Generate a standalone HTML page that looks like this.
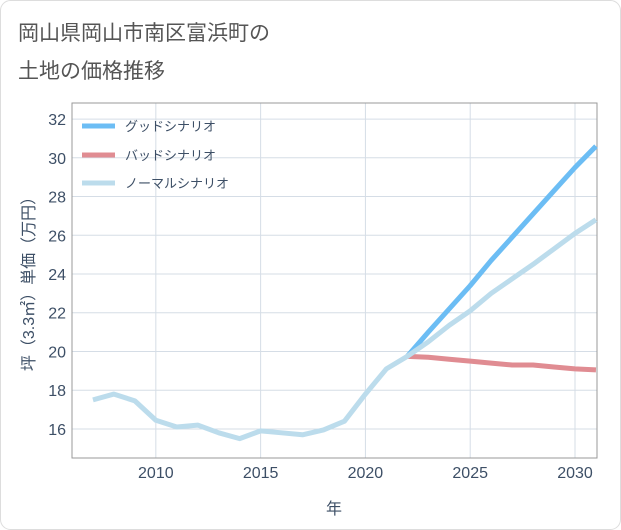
<!DOCTYPE html>
<html><head><meta charset="utf-8"><style>
body{margin:0;background:#fff;}
svg{display:block;font-family:"Liberation Sans","Noto Sans CJK JP",sans-serif;}
</style></head><body>
<svg width="621" height="530" viewBox="0 0 621 530">
<rect x="0.5" y="0.5" width="620" height="529" rx="10" fill="#fff" stroke="#ddd"/>
<text x="18" y="40" font-size="21" fill="#555">岡山県岡山市南区富浜町の</text>
<text x="18" y="78" font-size="21" fill="#555">土地の価格推移</text>
<g id="grid"></g>
<rect x="72" y="103" width="525" height="355" fill="none" stroke="#999"/>
<g id="series"></g>
<g id="axes"></g>
<text transform="translate(34,280) rotate(-90)" text-anchor="middle" font-size="16" fill="#3d4f66">坪（3.3㎡）単価（万円）</text>
<text x="334" y="514" text-anchor="middle" font-size="16" fill="#3d4f66">年</text>
<g>
<line x1="82" y1="126" x2="115" y2="126" stroke="#6cbdf4" stroke-width="5"/>
<text x="125" y="131" font-size="13" fill="#3d4f66">グッドシナリオ</text>
<line x1="82" y1="155" x2="115" y2="155" stroke="#e08c92" stroke-width="5"/>
<text x="125" y="160" font-size="13" fill="#3d4f66">バッドシナリオ</text>
<line x1="82" y1="183" x2="115" y2="183" stroke="#bcdcec" stroke-width="5"/>
<text x="125" y="188" font-size="13" fill="#3d4f66">ノーマルシナリオ</text>
</g>
</svg>
<script>
const normalYears=[2007,2008,2009,2010,2011,2012,2013,2014,2015,2016,2017,2018,2019,2020,2021,2022,2023,2024,2025,2026,2027,2028,2029,2030,2031];
const normalValues=[17.5,17.8,17.45,16.45,16.1,16.2,15.8,15.5,15.9,15.8,15.7,15.95,16.4,17.8,19.1,19.75,20.5,21.35,22.1,23.0,23.75,24.5,25.3,26.1,26.8];
const scenarioYears=[2022,2023,2024,2025,2026,2027,2028,2029,2030,2031];
const goodValues=[19.75,21.0,22.2,23.4,24.7,25.9,27.1,28.3,29.5,30.6];
const badValues=[19.75,19.7,19.6,19.5,19.4,19.3,19.3,19.2,19.1,19.05];
const xTicks=[2010,2015,2020,2025,2030];
const yTicks=[16,18,20,22,24,26,28,30,32];
const NS="http://www.w3.org/2000/svg";
const X0=72,X1=597,Y0=458,Y1=103,xMin=2006,xMax=2031.05,yMin=14.5,yMax=32.83;
function xs(v){return X0+(v-xMin)/(xMax-xMin)*(X1-X0);}
function ys(v){return Y0-(v-yMin)/(yMax-yMin)*(Y0-Y1);}
const grid=document.getElementById('grid'),axes=document.getElementById('axes'),series=document.getElementById('series');
xTicks.forEach(t=>{
 const l=document.createElementNS(NS,'line');
 l.setAttribute('x1',xs(t));l.setAttribute('x2',xs(t));l.setAttribute('y1',Y1);l.setAttribute('y2',Y0);
 l.setAttribute('stroke','#d5dde6');
 
 
 grid.appendChild(l);
 const tx=document.createElementNS(NS,'text');
 tx.setAttribute('x',xs(t));tx.setAttribute('y',478);tx.setAttribute('text-anchor','middle');
 tx.setAttribute('font-size','16');tx.setAttribute('fill','#3d4f66');tx.textContent=t;
 
 
 axes.appendChild(tx);
});
yTicks.forEach(t=>{
 const l=document.createElementNS(NS,'line');
 l.setAttribute('x1',X0);l.setAttribute('x2',X1);l.setAttribute('y1',ys(t));l.setAttribute('y2',ys(t));
 l.setAttribute('stroke','#d5dde6');
 
 
 grid.appendChild(l);
 const tx=document.createElementNS(NS,'text');
 tx.setAttribute('x',66);tx.setAttribute('y',ys(t)+6);tx.setAttribute('text-anchor','end');
 tx.setAttribute('font-size','16');tx.setAttribute('fill','#3d4f66');tx.textContent=t;
 
 
 axes.appendChild(tx);
});
function drawLine(xsArr,vals,color,name){
 const p=document.createElementNS(NS,'polyline');
 p.setAttribute('points',xsArr.map((x,i)=>xs(x)+','+ys(vals[i])).join(' '));
 p.setAttribute('fill','none');p.setAttribute('stroke',color);p.setAttribute('stroke-width','5');
 p.setAttribute('stroke-linejoin','round');
 
 
 series.appendChild(p);
}
drawLine(scenarioYears,goodValues,'#6cbdf4','good-scenario-line');
drawLine(scenarioYears,badValues,'#e08c92','bad-scenario-line');
drawLine(normalYears,normalValues,'#bcdcec','normal-scenario-line');
</script>
</body></html>
